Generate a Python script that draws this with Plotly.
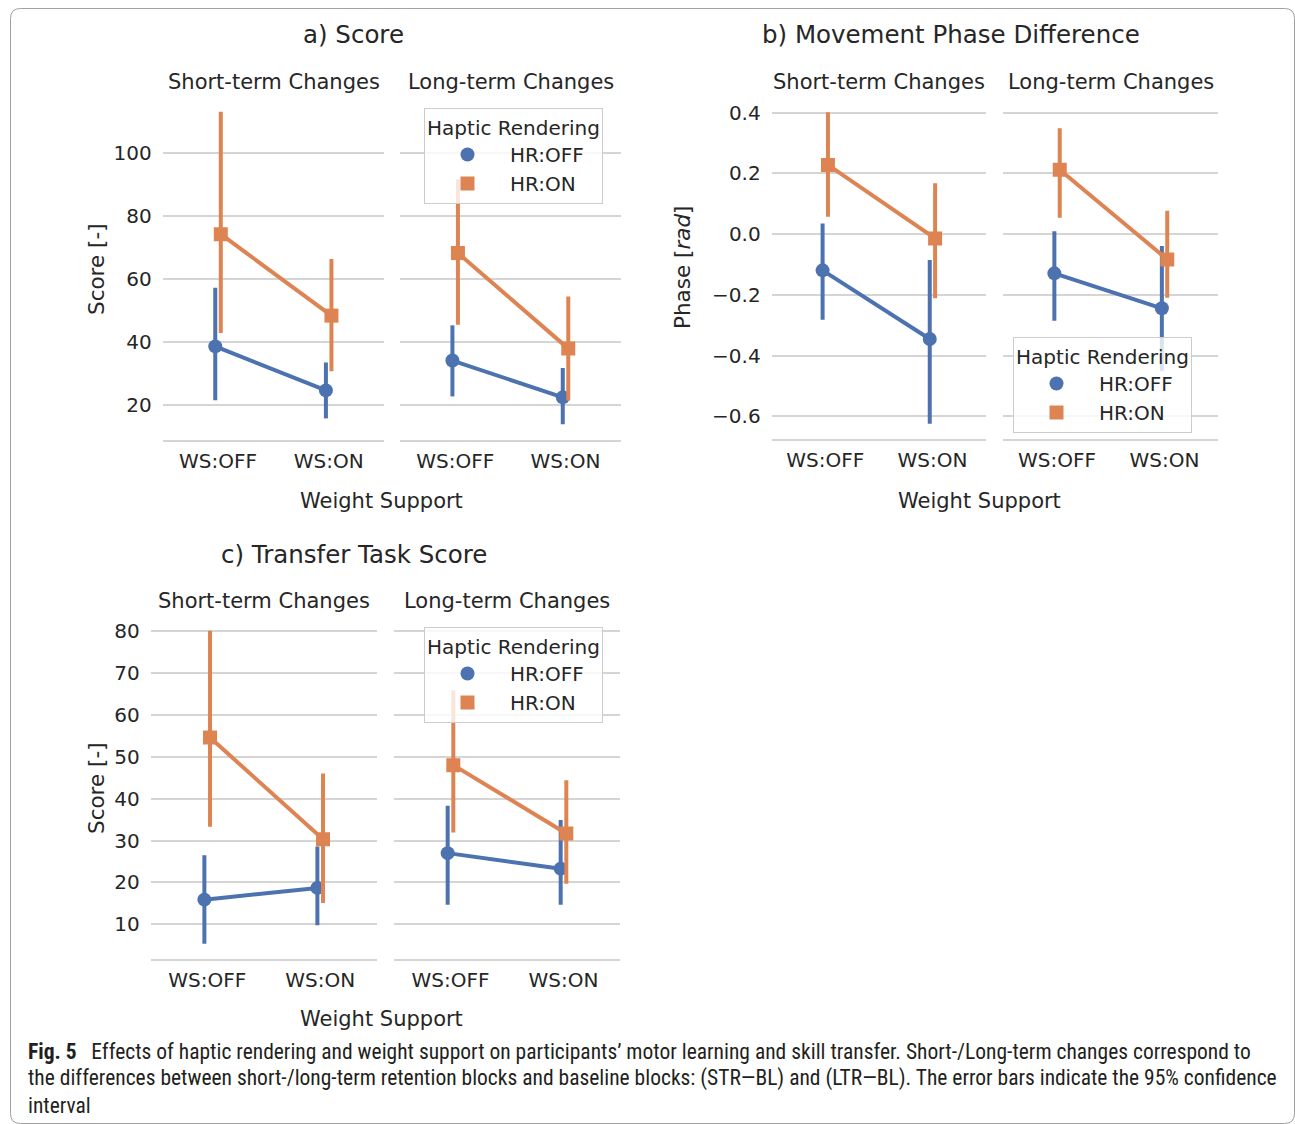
import plotly.graph_objects as go

# ---------------- data ----------------
categories = ["WS:OFF", "WS:ON"]
hr_levels = ["HR:OFF", "HR:ON"]

# a) Score
score_st_off_mean = [38.5, 24.5]
score_st_off_low = [21.4, 15.6]
score_st_off_high = [57.2, 33.4]
score_st_on_mean = [74.2, 48.3]
score_st_on_low = [42.8, 30.6]
score_st_on_high = [113.2, 66.3]
score_lt_off_mean = [34.0, 22.3]
score_lt_off_low = [22.6, 13.7]
score_lt_off_high = [45.2, 31.6]
score_lt_on_mean = [68.2, 37.8]
score_lt_on_low = [45.4, 21.3]
score_lt_on_high = [91.7, 54.4]

# b) Movement phase difference
phase_st_off_mean = [-0.119, -0.345]
phase_st_off_low = [-0.282, -0.624]
phase_st_off_high = [0.035, -0.085]
phase_st_on_mean = [0.228, -0.014]
phase_st_on_low = [0.057, -0.211]
phase_st_on_high = [0.401, 0.168]
phase_lt_off_mean = [-0.129, -0.244]
phase_lt_off_low = [-0.285, -0.450]
phase_lt_off_high = [0.010, -0.039]
phase_lt_on_mean = [0.212, -0.083]
phase_lt_on_low = [0.054, -0.209]
phase_lt_on_high = [0.349, 0.077]

# c) Transfer task score
trans_st_off_mean = [15.9, 18.7]
trans_st_off_low = [5.4, 9.8]
trans_st_off_high = [26.5, 28.6]
trans_st_on_mean = [54.6, 30.3]
trans_st_on_low = [33.3, 15.1]
trans_st_on_high = [80.1, 46.0]
trans_lt_off_mean = [27.0, 23.3]
trans_lt_off_low = [14.7, 14.7]
trans_lt_off_high = [38.3, 34.9]
trans_lt_on_mean = [48.0, 31.7]
trans_lt_on_low = [31.9, 19.7]
trans_lt_on_high = [65.9, 44.4]

score_ticks = [20, 40, 60, 80, 100]
phase_ticks = [-0.6, -0.4, -0.2, 0.0, 0.2, 0.4]
trans_ticks = [10, 20, 30, 40, 50, 60, 70, 80]

# ---------------- style ----------------
W, H = 1295, 1124
BLUE = "#4C72B0"
ORANGE = "#DD8452"
TXT = "#262626"
GRID = "#d5d5d5"
FONT = "DejaVu Sans"
DODGE = 0.025
LW = 4
MS = 14


def px(x):
    return x / W


def py(y):
    return 1 - y / H


fig = go.Figure()

panels = [
    (1, (162.7, 384.0), (96, 440), [(score_st_off_mean, score_st_off_low, score_st_off_high),
                                     (score_st_on_mean, score_st_on_low, score_st_on_high)]),
    (2, (400.0, 620.7), (96, 440), [(score_lt_off_mean, score_lt_off_low, score_lt_off_high),
                                     (score_lt_on_mean, score_lt_on_low, score_lt_on_high)]),
    (3, (771.7, 986.0), (96.8, 439.3), [(phase_st_off_mean, phase_st_off_low, phase_st_off_high),
                                         (phase_st_on_mean, phase_st_on_low, phase_st_on_high)]),
    (4, (1003.3, 1218.3), (96.8, 439.3), [(phase_lt_off_mean, phase_lt_off_low, phase_lt_off_high),
                                           (phase_lt_on_mean, phase_lt_on_low, phase_lt_on_high)]),
    (5, (150.7, 376.7), (615, 959.3), [(trans_st_off_mean, trans_st_off_low, trans_st_off_high),
                                        (trans_st_on_mean, trans_st_on_low, trans_st_on_high)]),
    (6, (394.0, 620.0), (615, 959.3), [(trans_lt_off_mean, trans_lt_off_low, trans_lt_off_high),
                                        (trans_lt_on_mean, trans_lt_on_low, trans_lt_on_high)]),
]

colors = [BLUE, ORANGE]
symbols = ["circle", "square"]
offsets = [-DODGE, DODGE]


def yrange(groups):
    lows = [v for g in groups for s in g for v in s[1]]
    highs = [v for g in groups for s in g for v in s[2]]
    lo, hi = min(lows), max(highs)
    pad = 0.05 * (hi - lo)
    return [lo - pad, hi + pad]


rng_a = yrange([panels[0][3], panels[1][3]])
rng_b = yrange([panels[2][3], panels[3][3]])
rng_c = yrange([panels[4][3], panels[5][3]])
ranges = {1: rng_a, 2: rng_a, 3: rng_b, 4: rng_b, 5: rng_c, 6: rng_c}
ticks = {1: score_ticks, 2: score_ticks, 3: phase_ticks, 4: phase_ticks, 5: trans_ticks, 6: trans_ticks}
tfmt = {1: "d", 2: "d", 3: ".1f", 4: ".1f", 5: "d", 6: "d"}

for idx, (xd0, xd1), (yd0, yd1), series in panels:
    sfx = "" if idx == 1 else str(idx)
    for k, (mean, low, high) in enumerate(series):
        xs = [i + offsets[k] for i in range(len(categories))]
        fig.add_trace(go.Scatter(
            x=xs, y=mean, mode="lines+markers",
            line=dict(color=colors[k], width=LW),
            marker=dict(color=colors[k], symbol=symbols[k], size=MS),
            error_y=dict(type="data", symmetric=False,
                         array=[h - m for h, m in zip(high, mean)],
                         arrayminus=[m - l for m, l in zip(mean, low)],
                         color=colors[k], thickness=LW, width=0),
            showlegend=False, hoverinfo="skip",
            xaxis="x" + sfx, yaxis="y" + sfx,
        ))
    fig.layout["xaxis" + sfx] = dict(
        domain=[px(xd0), px(xd1)], range=[-0.5, 1.5],
        tickvals=list(range(len(categories))), ticktext=categories,
        showgrid=False, zeroline=False, showline=True, linecolor=GRID, linewidth=1.5,
        ticks="", ticklabelstandoff=2,
        tickfont=dict(family=FONT, size=20, color=TXT),
        anchor="y" + sfx, fixedrange=True,
    )
    fig.layout["yaxis" + sfx] = dict(
        domain=[py(yd1), py(yd0)], range=ranges[idx],
        tickvals=ticks[idx], tickformat=tfmt[idx],
        showticklabels=(idx % 2 == 1),
        showgrid=True, gridcolor=GRID, gridwidth=1.5, zeroline=False, showline=False,
        ticks="", ticklabelstandoff=10,
        tickfont=dict(family=FONT, size=20, color=TXT),
        anchor="x" + sfx, fixedrange=True,
    )

# legend-only entries
legend_names = ["legend", "legend2", "legend3"]
for lg in legend_names:
    for k in range(2):
        fig.add_trace(go.Scatter(
            x=[None], y=[None], mode="markers", name=hr_levels[k],
            marker=dict(color=colors[k], symbol=symbols[k], size=MS),
            legend=lg, showlegend=True, xaxis="x", yaxis="y",
        ))

legend_common = dict(
    bgcolor="rgba(255,255,255,0.8)", bordercolor="#cccccc", borderwidth=1,
    font=dict(family=FONT, size=20, color=TXT),
    title=dict(text="Haptic Rendering", side="top center", font=dict(family=FONT, size=20, color=TXT)),
    xanchor="left", yanchor="top", itemsizing="trace", tracegroupgap=0,
    itemwidth=75,
)
fig.update_layout(
    legend=dict(x=px(424), y=py(108), **legend_common),
    legend2=dict(x=px(1013), y=py(337), **legend_common),
    legend3=dict(x=px(424), y=py(627), **legend_common),
)

annotations = []


def text(x, y, s, size, angle=0, xanchor="center", family=FONT, color=TXT):
    annotations.append(dict(
        x=px(x), y=py(y), xref="paper", yref="paper", text=s, showarrow=False,
        xanchor=xanchor, yanchor="middle", textangle=angle,
        font=dict(family=family, size=size, color=color),
    ))


# main titles
text(353.5, 35, "a) Score", 24.5)
text(950.5, 35, "b) Movement Phase Difference", 24.5)
text(353.5, 554, "c) Transfer Task Score", 24.5)
# column titles
text(273.5, 82, "Short-term Changes", 21)
text(510.5, 82, "Long-term Changes", 21)
text(879, 82, "Short-term Changes", 21)
text(1111, 82, "Long-term Changes", 21)
text(264, 601, "Short-term Changes", 21)
text(507, 601, "Long-term Changes", 21)
# axis titles
text(381.5, 501, "Weight Support", 21)
text(979.5, 501, "Weight Support", 21)
text(381.5, 1019, "Weight Support", 21)
text(96, 269, "Score [-]", 21.5, angle=-90)
text(682, 268, "Phase [<i>rad</i>]", 21.5, angle=-90)
text(96, 788, "Score [-]", 21.5, angle=-90)

# caption
CAP = "Liberation Sans Narrow, Arial Narrow, Roboto Condensed, sans-serif"
CAPSZ = 21.5
text(26, 1051, "<b>Fig. 5</b>   Effects of haptic rendering and weight support on participants’ motor learning and skill transfer. Short-/Long-term changes correspond to",
     CAPSZ, xanchor="left", family=CAP, color="#231f20")
text(26, 1078, "the differences between short-/long-term retention blocks and baseline blocks: (STR—BL) and (LTR—BL). The error bars indicate the 95% confidence",
     CAPSZ, xanchor="left", family=CAP, color="#231f20")
text(26, 1105, "interval", CAPSZ, xanchor="left", family=CAP, color="#231f20")

# rounded border
x0, x1, y0, y1, r = 10.5, 1294.5, 8.5, 1123.5, 10


def P(x, y):
    return f"{px(x):.5f},{py(y):.5f}"


path = (f"M {P(x0 + r, y0)} L {P(x1 - r, y0)} Q {P(x1, y0)} {P(x1, y0 + r)} "
        f"L {P(x1, y1 - r)} Q {P(x1, y1)} {P(x1 - r, y1)} "
        f"L {P(x0 + r, y1)} Q {P(x0, y1)} {P(x0, y1 - r)} "
        f"L {P(x0, y0 + r)} Q {P(x0, y0)} {P(x0 + r, y0)} Z")

fig.update_layout(
    width=W, height=H, autosize=False,
    margin=dict(l=0, r=0, t=0, b=0, autoexpand=False),
    paper_bgcolor="white", plot_bgcolor="white",
    annotations=annotations,
    shapes=[dict(type="path", path=path, xref="paper", yref="paper",
                 line=dict(color="#a0a0a0", width=1), fillcolor="rgba(0,0,0,0)", layer="above")],
    font=dict(family=FONT, color=TXT),
)

fig.write_html("out.html", config={"displayModeBar": False},
               post_script="document.body.style.margin='0';document.body.style.overflow='hidden';")
